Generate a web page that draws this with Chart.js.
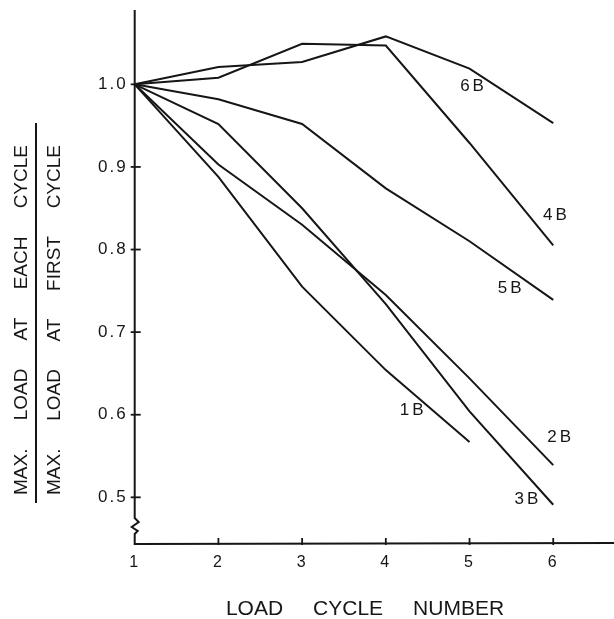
<!DOCTYPE html>
<html>
<head>
<meta charset="utf-8">
<script src="https://cdn.jsdelivr.net/npm/chart.js@4.4.1/dist/chart.umd.min.js"></script>
<style>
  html, body { margin: 0; padding: 0; background: #fff; }
  canvas { display: block; }
</style>
</head>
<body>
<canvas id="cycleChart" width="614" height="619"></canvas>
<script>
// load cycle numbers and max-load ratios
const cycles = [1, 2, 3, 4, 5, 6];
const s1B = [1.0, 0.888, 0.755, 0.654, 0.567];
const s2B = [1.0, 0.903, 0.830, 0.745, 0.644, 0.539];
const s3B = [1.0, 0.952, 0.850, 0.734, 0.604, 0.491];
const s4B = [1.0, 1.008, 1.049, 1.047, 0.929, 0.805];
const s5B = [1.0, 0.982, 0.952, 0.874, 0.810, 0.739];
const s6B = [1.0, 1.021, 1.027, 1.058, 1.019, 0.953];
const seriesNames = ['1B', '2B', '3B', '4B', '5B', '6B'];
const xTicks = [1, 2, 3, 4, 5, 6];
const yTicks = [0.5, 0.6, 0.7, 0.8, 0.9, 1.0];

// where each curve name sits, in data units
const labelSpots = {
  '1B': [4.31, 0.605],
  '2B': [6.07, 0.573],
  '3B': [5.68, 0.497],
  '4B': [6.02, 0.841],
  '5B': [5.48, 0.753],
  '6B': [5.03, 0.998]
};

const INK = '#161616';
const FONT = '"Liberation Sans", Arial, sans-serif';

function toPoints(values) {
  return values.map(function (v, i) { return { x: cycles[i], y: v }; });
}

const allSeries = [s1B, s2B, s3B, s4B, s5B, s6B];
const datasets = allSeries.map(function (vals, i) {
  return {
    label: seriesNames[i],
    data: toPoints(vals),
    borderColor: INK,
    borderWidth: 2,
    pointRadius: 0,
    tension: 0,
    fill: false
  };
});

function drawWords(ctx, words, cx, cy, gap) {
  const widths = words.map(function (w) { return ctx.measureText(w).width; });
  const total = widths.reduce(function (a, b) { return a + b; }, 0) + gap * (words.length - 1);
  let x = cx - total / 2;
  words.forEach(function (w, i) {
    ctx.fillText(w, x, cy);
    x += widths[i] + gap;
  });
}

const figurePlugin = {
  id: 'figure',
  beforeDraw: function (chart) {
    // spaced-out lettering for the tick numbers
    if ('letterSpacing' in chart.ctx) chart.ctx.letterSpacing = '2px';
  },
  afterDraw: function (chart) {
    const ctx = chart.ctx;
    const xs = chart.scales.x;
    const ys = chart.scales.y;
    const left = xs.getPixelForValue(1);
    const bottom = ys.bottom;

    ctx.save();
    if ('letterSpacing' in ctx) ctx.letterSpacing = '0px';
    ctx.strokeStyle = INK;
    ctx.fillStyle = INK;
    ctx.lineWidth = 2;
    ctx.lineCap = 'butt';

    // y axis with break mark near the bottom
    ctx.beginPath();
    ctx.moveTo(left, ys.top);
    ctx.lineTo(left, bottom - 25);
    ctx.lineTo(left + 4, bottom - 21);
    ctx.lineTo(left - 3, bottom - 16);
    ctx.lineTo(left + 3, bottom - 12);
    ctx.lineTo(left, bottom - 9);
    ctx.lineTo(left, bottom + 1);
    ctx.lineTo(xs.right, bottom);
    ctx.stroke();

    // tick marks crossing the axes
    ctx.lineWidth = 1.8;
    yTicks.forEach(function (v) {
      const py = ys.getPixelForValue(v);
      ctx.beginPath();
      ctx.moveTo(left - 4, py);
      ctx.lineTo(left + 6, py);
      ctx.stroke();
    });
    xTicks.forEach(function (v) {
      if (v === 1) return;
      const px = xs.getPixelForValue(v);
      ctx.beginPath();
      ctx.moveTo(px, bottom - 5);
      ctx.lineTo(px, bottom + 2);
      ctx.stroke();
    });

    // curve names
    ctx.font = '17px ' + FONT;
    ctx.textAlign = 'center';
    ctx.textBaseline = 'middle';
    if ('letterSpacing' in ctx) ctx.letterSpacing = '3px';
    seriesNames.forEach(function (name) {
      const spot = labelSpots[name];
      ctx.fillText(name, xs.getPixelForValue(spot[0]) + 1.5, ys.getPixelForValue(spot[1]));
    });
    if ('letterSpacing' in ctx) ctx.letterSpacing = '0px';

    // x title
    ctx.font = '21px ' + FONT;
    ctx.textAlign = 'left';
    ctx.textBaseline = 'middle';
    drawWords(ctx, ['LOAD', 'CYCLE', 'NUMBER'], 365, 609, 30);

    // y title as a fraction, rotated
    ctx.font = '19px ' + FONT;
    const upper = ['MAX.', 'LOAD', 'AT', 'EACH', 'CYCLE'];
    const lower = ['MAX.', 'LOAD', 'AT', 'FIRST', 'CYCLE'];
    [[upper, 22], [lower, 55]].forEach(function (pair) {
      const words = pair[0];
      ctx.save();
      ctx.translate(pair[1], 320);
      ctx.rotate(-Math.PI / 2);
      const sum = words.reduce(function (a, w) { return a + ctx.measureText(w).width; }, 0);
      drawWords(ctx, words, 0, 0, (350 - sum) / (words.length - 1));
      ctx.restore();
    });
    ctx.lineWidth = 2;
    ctx.beginPath();
    ctx.moveTo(36, 123);
    ctx.lineTo(36, 503);
    ctx.stroke();

    ctx.restore();
  }
};

const chart = new Chart(document.getElementById('cycleChart').getContext('2d'), {
  type: 'line',
  data: { datasets: datasets },
  options: {
    responsive: false,
    animation: false,
    events: [],
    layout: { padding: { top: 10, right: 0, left: 0, bottom: 0 } },
    plugins: {
      legend: { display: false },
      tooltip: { enabled: false },
      title: { display: false }
    },
    scales: {
      x: {
        type: 'linear',
        min: 1,
        max: 6.726,
        afterBuildTicks: function (s) { s.ticks = xTicks.map(function (v) { return { value: v }; }); },
        afterFit: function (s) { s.height = 76; s.paddingLeft = 0; s.paddingRight = 0; },
        grid: { display: true, drawOnChartArea: false, drawTicks: false },
        border: { display: false },
        ticks: {
          color: INK,
          padding: 10,
          maxRotation: 0,
          font: { family: FONT, size: 16 },
          callback: function (v) { return String(v); }
        }
      },
      y: {
        type: 'linear',
        min: 0.4447,
        max: 1.09,
        afterBuildTicks: function (s) { s.ticks = yTicks.map(function (v) { return { value: v }; }); },
        afterFit: function (s) { s.width = 134.7; s.paddingTop = 0; s.paddingBottom = 0; },
        grid: { display: true, drawOnChartArea: false, drawTicks: false },
        border: { display: false },
        ticks: {
          color: INK,
          padding: 7,
          font: { family: FONT, size: 17 },
          callback: function (v) { return v.toFixed(1); }
        }
      }
    }
  },
  plugins: [figurePlugin]
});
</script>
</body>
</html>
